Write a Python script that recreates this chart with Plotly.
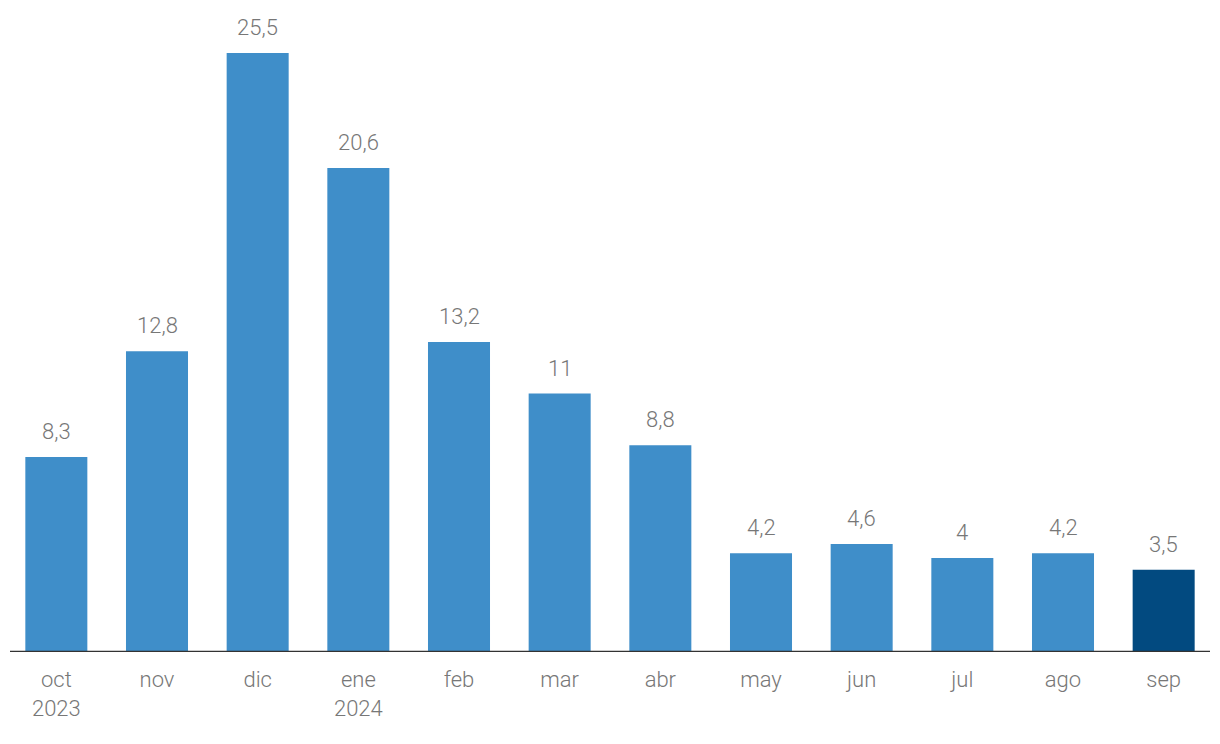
import plotly.graph_objects as go

categories = ["oct<br>2023", "nov", "dic", "ene<br>2024", "feb", "mar", "abr", "may", "jun", "jul", "ago", "sep"]
values = [8.3, 12.8, 25.5, 20.6, 13.2, 11, 8.8, 4.2, 4.6, 4, 4.2, 3.5]
labels = ["8,3", "12,8", "25,5", "20,6", "13,2", "11", "8,8", "4,2", "4,6", "4", "4,2", "3,5"]

LIGHT = "#3f8ec9"
DARK = "#024a80"
TEXT = "#777777"
colors = [LIGHT] * (len(values) - 1) + [DARK]

W, H = 1220, 744
ml, mr, mt, mb = 6, 6, 20, 92
plot_h = H - mt - mb
px_per_unit = 23.49
ymax = plot_h / px_per_unit

fig = go.Figure(go.Bar(
    x=categories, y=values, marker=dict(color=colors, line=dict(width=0)),
    hoverinfo="skip",
))

for c, v, t in zip(categories, values, labels):
    fig.add_annotation(x=c, y=v, text=t, showarrow=False, yanchor="bottom",
                       yshift=11,
                       font=dict(family="Roboto", size=22, color=TEXT, weight=300))

plot_w = W - ml - mr
x0 = (10 - ml) / plot_w
x1 = (1210 - ml) / plot_w
fig.add_shape(type="line", xref="paper", yref="y", x0=x0, x1=x1, y0=0, y1=0,
              line=dict(color="#333333", width=2.5))

fig.update_layout(
    width=W, height=H, margin=dict(l=ml, r=mr, t=mt, b=mb),
    paper_bgcolor="white", plot_bgcolor="white",
    bargap=0.384, showlegend=False,
    xaxis=dict(showline=False, showgrid=False, zeroline=False, ticks="outside",
               ticklen=8, tickcolor="rgba(0,0,0,0)",
               tickfont=dict(family="Roboto", size=22, color=TEXT, weight=300)),
    yaxis=dict(range=[0, ymax], visible=False, showgrid=False, zeroline=False),
)

fig.write_html("out.html")
